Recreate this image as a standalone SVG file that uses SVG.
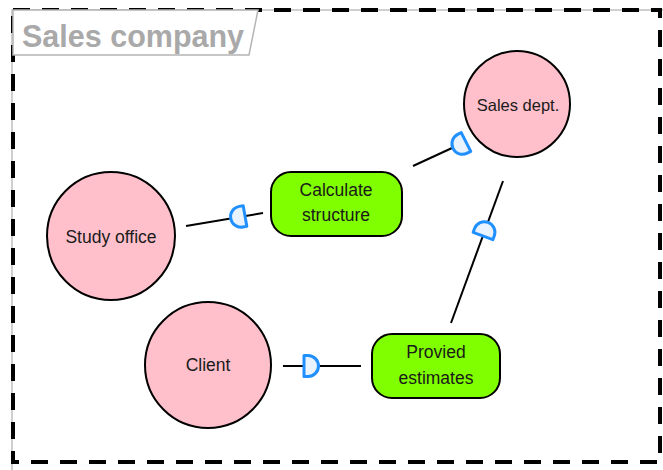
<svg xmlns="http://www.w3.org/2000/svg" width="663" height="470" viewBox="0 0 663 470">
<style>
.circ{fill:#ffc0cb;stroke:#000;stroke-width:2}
.act{fill:#80ff00;stroke:#000;stroke-width:2}
.lbl{font-family:"Liberation Sans",Arial,sans-serif;font-size:17.5px;fill:#1a1a1a;text-anchor:middle}
.conn{stroke:#000;stroke-width:2;fill:none}
.sock{fill:#e8f3ff;stroke:#2090ff;stroke-width:3;stroke-linejoin:round}
</style>
<defs>
<path id="d" d="M0,-10.5 L4,-10.5 A10.5,10.5 0 0 1 4,10.5 L0,10.5 Z"/>
</defs>
<rect width="663" height="470" fill="#fff"/>
<g id="frame">
<path d="M12,470 V10 H663" fill="none" stroke="#c0c0c0" stroke-width="1.5"/>
<rect x="13" y="10" width="647" height="452" fill="none" stroke="#000" stroke-width="4" stroke-dasharray="17 12"/>
<polygon points="13,10 258,10 249,55 13,55" fill="#fff" stroke="#b4b4b4" stroke-width="1.5"/>
<text x="22" y="47" font-family="Liberation Sans,Arial,sans-serif" font-size="30.5" font-weight="bold" fill="#a9a9a9">Sales company</text>
</g>
<g id="connectors">
<line class="conn" x1="186" y1="226" x2="263" y2="213"/>
<line class="conn" x1="413" y1="166" x2="452" y2="148"/>
<line class="conn" x1="503" y1="181" x2="451" y2="323"/>
<line class="conn" x1="283" y1="366" x2="361" y2="366"/>
<use href="#d" class="sock" transform="translate(245,216) rotate(170)"/>
<use href="#d" class="sock" transform="translate(466,142) rotate(153)"/>
<use href="#d" class="sock" transform="translate(483,236) rotate(-69.5)"/>
<use href="#d" class="sock" transform="translate(304,366)"/>
</g>
<g id="sales-dept">
<circle class="circ" cx="517" cy="104" r="53"/>
<text class="lbl" x="518" y="111" style="font-size:16.5px">Sales dept.</text>
</g>
<g id="study-office">
<circle class="circ" cx="111" cy="236" r="64"/>
<text class="lbl" x="111" y="243">Study office</text>
</g>
<g id="client">
<circle class="circ" cx="208" cy="365" r="63"/>
<text class="lbl" x="208" y="371">Client</text>
</g>
<g id="calculate-structure">
<rect class="act" x="271" y="172" width="131" height="64" rx="20"/>
<text class="lbl" x="336" y="196">Calculate</text>
<text class="lbl" x="336" y="221">structure</text>
</g>
<g id="provied-estimates">
<rect class="act" x="372" y="334" width="128" height="64" rx="20"/>
<text class="lbl" x="436" y="358">Provied</text>
<text class="lbl" x="436" y="384">estimates</text>
</g>
</svg>
